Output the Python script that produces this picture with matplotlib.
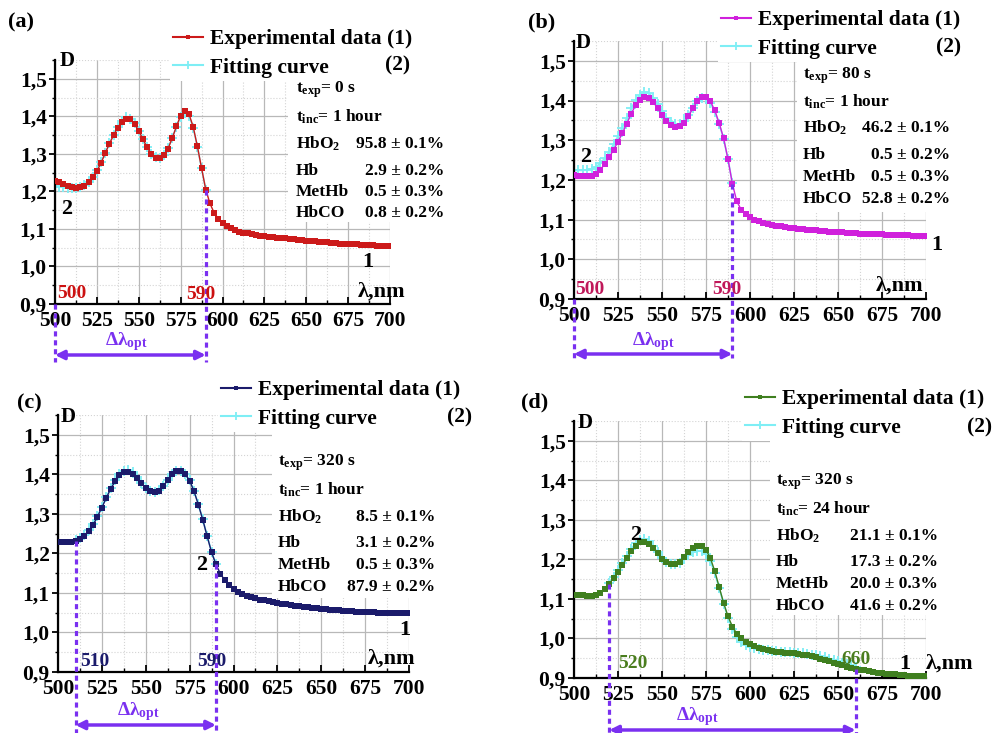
import numpy as np
import matplotlib
matplotlib.use('Agg')
from matplotlib import pyplot as plt
from matplotlib.patches import Rectangle
from matplotlib.ticker import MultipleLocator, FuncFormatter

plt.rcParams['font.family'] = 'Liberation Serif'
plt.rcParams['font.weight'] = 'bold'
plt.rcParams['mathtext.fontset'] = 'custom'
plt.rcParams['mathtext.rm'] = 'Liberation Serif:bold'
plt.rcParams['mathtext.bf'] = 'Liberation Serif:bold'
plt.rcParams['mathtext.it'] = 'Liberation Serif:bold'
plt.rcParams['mathtext.default'] = 'bf'

W, H = 993, 733

# longitudes de onda (nm)
wl_exp = np.arange(500, 700.1, 2.5)
fit_wl_a = np.arange(500, 590.1, 2.5)
fit_wl_b = np.arange(500, 590.1, 2.5)
fit_wl_c = np.arange(510, 590.1, 2.5)
fit_wl_d = np.arange(520, 660.1, 2.5)

# datos experimentales (1), D
exp_a = [1.228, 1.224, 1.219, 1.215, 1.212, 1.210, 1.211, 1.215, 1.224, 1.237,
         1.254, 1.276, 1.302, 1.327, 1.350, 1.370, 1.386, 1.394, 1.392, 1.380,
         1.361, 1.339, 1.317, 1.300, 1.290, 1.288, 1.296, 1.314, 1.342, 1.373,
         1.402, 1.415, 1.406, 1.372, 1.320, 1.262, 1.205, 1.168, 1.143, 1.127,
         1.116, 1.108, 1.102, 1.097, 1.093, 1.090, 1.088, 1.086, 1.084, 1.082,
         1.081, 1.079, 1.078, 1.077, 1.076, 1.075, 1.074, 1.072, 1.071, 1.070,
         1.069, 1.068, 1.067, 1.066, 1.065, 1.064, 1.063, 1.062, 1.061, 1.061,
         1.060, 1.059, 1.059, 1.058, 1.057, 1.057, 1.056, 1.055, 1.055, 1.054,
         1.054]
exp_b = [1.212, 1.210, 1.209, 1.209, 1.211, 1.216, 1.226, 1.240, 1.257, 1.276,
         1.296, 1.318, 1.342, 1.367, 1.388, 1.402, 1.409, 1.407, 1.396, 1.381,
         1.364, 1.349, 1.338, 1.333, 1.335, 1.344, 1.360, 1.380, 1.399, 1.409,
         1.408, 1.398, 1.375, 1.343, 1.305, 1.252, 1.190, 1.146, 1.125, 1.113,
         1.106, 1.100, 1.096, 1.092, 1.089, 1.087, 1.085, 1.083, 1.081, 1.080,
         1.079, 1.077, 1.076, 1.075, 1.074, 1.073, 1.072, 1.071, 1.070, 1.069,
         1.068, 1.068, 1.067, 1.066, 1.066, 1.065, 1.065, 1.064, 1.064, 1.063,
         1.063, 1.062, 1.062, 1.061, 1.061, 1.060, 1.060, 1.059, 1.059, 1.058,
         1.058]
exp_c = [1.230, 1.230, 1.230, 1.230, 1.231, 1.236, 1.244, 1.256, 1.272, 1.293,
         1.316, 1.340, 1.363, 1.382, 1.397, 1.405, 1.407, 1.402, 1.391, 1.377,
         1.365, 1.357, 1.355, 1.359, 1.370, 1.385, 1.400, 1.408, 1.408, 1.400,
         1.384, 1.357, 1.323, 1.285, 1.243, 1.203, 1.172, 1.149, 1.132, 1.120,
         1.110, 1.103, 1.097, 1.092, 1.089, 1.086, 1.083, 1.081, 1.079, 1.077,
         1.075, 1.073, 1.072, 1.070, 1.068, 1.067, 1.065, 1.064, 1.063, 1.061,
         1.060, 1.059, 1.058, 1.057, 1.056, 1.055, 1.054, 1.054, 1.053, 1.052,
         1.052, 1.051, 1.051, 1.050, 1.050, 1.049, 1.049, 1.049, 1.048, 1.048,
         1.048]
exp_d = [1.110, 1.110, 1.109, 1.108, 1.108, 1.111, 1.116, 1.125, 1.138, 1.153,
         1.168, 1.185, 1.203, 1.220, 1.234, 1.243, 1.245, 1.240, 1.229, 1.215,
         1.202, 1.193, 1.188, 1.188, 1.194, 1.205, 1.218, 1.229, 1.234, 1.233,
         1.224, 1.203, 1.170, 1.130, 1.090, 1.056, 1.030, 1.012, 1.000, 0.992,
         0.986, 0.981, 0.977, 0.974, 0.971, 0.969, 0.967, 0.966, 0.964, 0.963,
         0.962, 0.961, 0.959, 0.957, 0.955, 0.952, 0.949, 0.946, 0.942, 0.938,
         0.935, 0.932, 0.929, 0.926, 0.924, 0.921, 0.919, 0.917, 0.915, 0.913,
         0.912, 0.911, 0.910, 0.909, 0.908, 0.907, 0.906, 0.905, 0.905, 0.904,
         0.904]

# curvas de ajuste (2)
fit_a = [1.215, 1.213, 1.211, 1.210, 1.209, 1.209, 1.211, 1.217, 1.226, 1.239,
         1.256, 1.278, 1.303, 1.328, 1.351, 1.372, 1.388, 1.397, 1.394, 1.381,
         1.361, 1.339, 1.317, 1.300, 1.291, 1.290, 1.298, 1.316, 1.343, 1.372,
         1.398, 1.409, 1.401, 1.370, 1.319, 1.261, 1.204]
fit_b = [1.224, 1.224, 1.224, 1.225, 1.228, 1.233, 1.242, 1.255, 1.271, 1.290,
         1.310, 1.332, 1.356, 1.380, 1.401, 1.415, 1.422, 1.419, 1.407, 1.391,
         1.373, 1.357, 1.345, 1.340, 1.341, 1.349, 1.364, 1.382, 1.399, 1.407,
         1.404, 1.393, 1.371, 1.341, 1.304, 1.252, 1.192]
fit_c = [1.234, 1.238, 1.246, 1.258, 1.274, 1.295, 1.318, 1.342, 1.365, 1.385,
         1.400, 1.408, 1.410, 1.405, 1.393, 1.379, 1.366, 1.358, 1.356, 1.360,
         1.371, 1.386, 1.401, 1.409, 1.409, 1.401, 1.385, 1.358, 1.324, 1.286,
         1.244, 1.204, 1.173]
fit_d = [1.140, 1.156, 1.172, 1.190, 1.209, 1.227, 1.241, 1.250, 1.252, 1.246,
         1.233, 1.218, 1.204, 1.194, 1.189, 1.188, 1.192, 1.200, 1.210, 1.218,
         1.222, 1.221, 1.213, 1.195, 1.165, 1.127, 1.088, 1.052, 1.024, 1.004,
         0.991, 0.983, 0.978, 0.975, 0.973, 0.971, 0.970, 0.969, 0.968, 0.967,
         0.966, 0.965, 0.964, 0.963, 0.962, 0.961, 0.959, 0.957, 0.955, 0.952,
         0.949, 0.946, 0.942, 0.939, 0.935, 0.932, 0.929]

species = ['HbO$_2$', 'Hb', 'MetHb', 'HbCO']
comp_a = ['95.8 ± 0.1%', '2.9 ± 0.2%', '0.5 ± 0.3%', '0.8 ± 0.2%']
comp_b = ['46.2 ± 0.1%', '0.5 ± 0.2%', '0.5 ± 0.3%', '52.8 ± 0.2%']
comp_c = ['8.5 ± 0.1%', '3.1 ± 0.2%', '0.5 ± 0.3%', '87.9 ± 0.2%']
comp_d = ['21.1 ± 0.1%', '17.3 ± 0.2%', '20.0 ± 0.3%', '41.6 ± 0.2%']

CYAN = '#7eeef5'
PURPLE = '#7a30f0'

# layout en pixeles de la figura
panels = [
    dict(tag='(a)', exp=exp_a, fwl=fit_wl_a, fit=fit_a, color='#cc1a1a', lcol='#cc1111',
         win=(500, 590), texp='0 s', tinc='1 hour', comp=comp_a,
         box=(55, 60, 390, 304), tag_xy=(8, 22), d_xy=(60, 61), leg_xy=(170, 26),
         two_xy=(410, 65), info_x=(296, 444), info_y=[90, 117, 144, 171, 192, 213],
         info_rect=(288, 222), n2=(67, 209), n1=(368, 262), lam=(382, 292),
         wlab=[(72, 294), (201, 295)], arrow_y=355, dash_bot=362, dl=(126, 342)),
    dict(tag='(b)', exp=exp_b, fwl=fit_wl_b, fit=fit_b, color='#d020dc', lcol='#c0185a',
         win=(500, 590), texp='80 s', tinc='1 hour', comp=comp_b,
         box=(574, 41, 926, 299), tag_xy=(528, 22), d_xy=(576, 43), leg_xy=(718, 7),
         two_xy=(961, 47), info_x=(803, 950), info_y=[76, 102, 128, 155, 177, 199],
         info_rect=(797, 212), n2=(586, 157), n1=(937, 245), lam=(900, 286),
         wlab=[(590, 290), (727, 290)], arrow_y=354, dash_bot=358, dl=(653, 342)),
    dict(tag='(c)', exp=exp_c, fwl=fit_wl_c, fit=fit_c, color='#1b1b6b', lcol='#1b1b6b',
         win=(510, 590), texp='320 s', tinc='1 hour', comp=comp_c,
         box=(58, 415, 409, 672), tag_xy=(17, 403), d_xy=(61, 417), leg_xy=(218, 377),
         two_xy=(472, 417), info_x=(278, 435), info_y=[463, 490, 517, 543, 565, 587],
         info_rect=(272, 598), n2=(202, 565), n1=(405, 630), lam=(392, 659),
         wlab=[(95, 662), (212, 662)], arrow_y=725, dash_bot=733, dl=(138, 712)),
    dict(tag='(d)', exp=exp_d, fwl=fit_wl_d, fit=fit_d, color='#3f7f1f', lcol='#4a7d1e',
         win=(520, 660), texp='320 s', tinc='24 hour', comp=comp_d,
         box=(574, 421, 926, 678), tag_xy=(521, 402), d_xy=(578, 423), leg_xy=(742, 386),
         two_xy=(992, 427), info_x=(776, 938), info_y=[482, 509, 536, 562, 584, 606],
         info_rect=(770, 615), n2=(636, 535), n1=(905, 664), lam=(950, 664),
         wlab=[(633, 663), (856, 660)], arrow_y=730, dash_bot=733, dl=(697, 717)),
]

fig = plt.figure(figsize=(W / 100, H / 100), dpi=100)
fig.patch.set_facecolor('white')


def ftext(xy, s, **kw):
    return fig.text(xy[0] / W, 1 - xy[1] / H, s, **kw)


for p in panels:
    l, t, r, b = p['box']
    ax = fig.add_axes([l / W, 1 - b / H, (r - l) / W, (b - t) / H])
    ax.set_xlim(500, 700)
    ax.set_ylim(0.9, 1.55)
    ax.set_axisbelow(True)

    def ydata(ypx):
        return 0.9 + (b - ypx) * 0.65 / (b - t)

    ax.xaxis.set_major_locator(MultipleLocator(25))
    ax.xaxis.set_minor_locator(MultipleLocator(12.5))
    ax.yaxis.set_major_locator(MultipleLocator(0.1))
    ax.yaxis.set_minor_locator(MultipleLocator(0.05))
    ax.yaxis.set_major_formatter(FuncFormatter(lambda v, pos: f'{v:.1f}'.replace('.', ',')))
    ax.grid(which='major', color='#b8b8b8', lw=0.9)
    ax.grid(which='minor', color='#d4d4d4', lw=0.8, ls=':')
    for s in ['top', 'right']:
        ax.spines[s].set_visible(False)
    for s in ['left', 'bottom']:
        ax.spines[s].set_linewidth(1.6)
    ax.tick_params(axis='x', which='major', direction='in', length=5, width=1.3, labelsize=15.5, pad=5)
    ax.tick_params(axis='x', which='minor', direction='in', length=3, width=1.0)
    ax.tick_params(axis='y', which='major', direction='out', length=4, width=1.3, labelsize=15.5, pad=2)
    ax.tick_params(axis='y', which='minor', direction='out', length=2.5, width=1.0)

    h_fit, = ax.plot(p['fwl'], p['fit'], color=CYAN, lw=1.2, marker='+', ms=7.5, mew=1.3, zorder=2)
    h_exp, = ax.plot(wl_exp, p['exp'], color=p['color'], lw=1.0, marker='s', ms=3.8, mew=0, zorder=3)

    leg = ax.legend([h_exp, h_fit], ['Experimental data (1)', 'Fitting curve'],
                    loc='upper left', bbox_to_anchor=(p['leg_xy'][0] / W, 1 - p['leg_xy'][1] / H),
                    bbox_transform=fig.transFigure, fancybox=False, edgecolor='none',
                    facecolor='white', framealpha=1, fontsize=15.5, handlelength=1.4,
                    handletextpad=0.3, labelspacing=0.38, borderpad=0.15, borderaxespad=0,
                    numpoints=1, markerscale=0.8)
    for lh in leg.legend_handles:
        lh.set_linewidth(1.5)
    ftext(p['two_xy'], '(2)', fontsize=15.5, ha='right', va='center')

    # caja blanca de la informacion
    x0, y1 = p['info_rect']
    ax.add_patch(Rectangle((x0 / W, 1 - y1 / H), (r - x0) / W, (y1 - t) / H,
                           transform=fig.transFigure, facecolor='white', edgecolor='none', zorder=1))
    xl, xr = p['info_x']
    ys = p['info_y']
    ftext((xl, ys[0]), 't$_{exp}$= ' + p['texp'], fontsize=12.5, va='center')
    ftext((xl, ys[1]), 't$_{inc}$= ' + p['tinc'], fontsize=12.5, va='center')
    for name, val, y in zip(species, p['comp'], ys[2:]):
        ftext((xl, y), name, fontsize=12.5, va='center')
        ftext((xr, y), val, fontsize=12.5, va='center', ha='right')

    ftext(p['tag_xy'], p['tag'], fontsize=16, va='center')
    ftext(p['d_xy'], 'D', fontsize=15, va='center')
    ftext(p['n2'], '2', fontsize=16, ha='center', va='center')
    ftext(p['n1'], '1', fontsize=16, ha='center', va='center')
    ftext(p['lam'], 'λ,nm', fontsize=16, ha='center', va='center')
    for xy, w in zip(p['wlab'], p['win']):
        ftext(xy, str(w), fontsize=14, ha='center', va='center', color=p['lcol'])

    # intervalo optimo
    lo, hi = p['win']
    ybot = ydata(p['dash_bot'])
    for xw in (lo, hi):
        ytop = np.interp(xw, wl_exp, p['exp']) if xw > 500 else 0.9
        ax.plot([xw, xw], [ytop, ybot], color=PURPLE, lw=2.3, ls=(0, (1.6, 1.2)),
                clip_on=False, zorder=4)
    ya = ydata(p['arrow_y'])
    ax.annotate('', xy=(lo, ya), xytext=(hi, ya), xycoords='data',
                arrowprops=dict(arrowstyle='<|-|>', color=PURPLE, lw=2.5, mutation_scale=13,
                                shrinkA=0, shrinkB=0), annotation_clip=False)
    ftext(p['dl'], 'Δλ$_{opt}$', fontsize=14, ha='center', va='center', color=PURPLE)

fig.savefig('out.png', dpi=100)
